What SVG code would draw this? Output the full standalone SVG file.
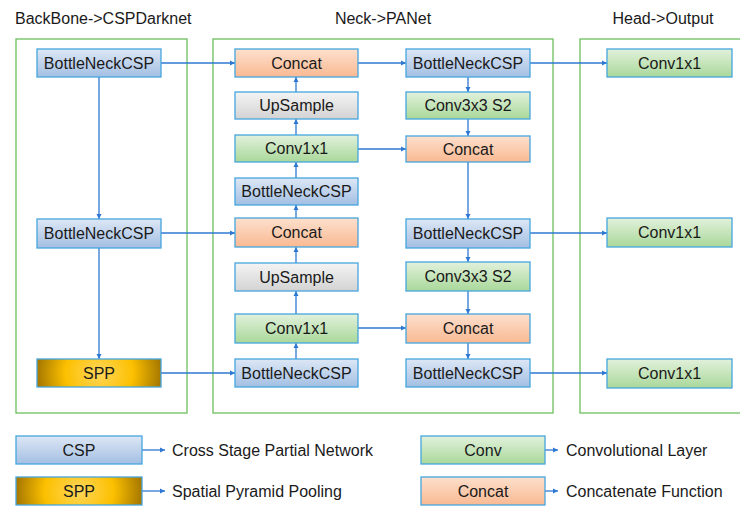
<svg xmlns="http://www.w3.org/2000/svg" width="740" height="507" viewBox="0 0 740 507">
<defs>
<linearGradient id="gBlue" x1="0" y1="0" x2="0" y2="1"><stop offset="0" stop-color="#dde7f5"/><stop offset="1" stop-color="#a3bfe3"/></linearGradient>
<linearGradient id="gOrange" x1="0" y1="0" x2="0" y2="1"><stop offset="0" stop-color="#fde0cd"/><stop offset="1" stop-color="#f9b992"/></linearGradient>
<linearGradient id="gGreen" x1="0" y1="0" x2="0" y2="1"><stop offset="0" stop-color="#e2f1dc"/><stop offset="1" stop-color="#a9d89a"/></linearGradient>
<linearGradient id="gGray" x1="0" y1="0" x2="0" y2="1"><stop offset="0" stop-color="#f4f4f4"/><stop offset="1" stop-color="#d3d3d3"/></linearGradient>
<radialGradient id="gSpp" cx="0.5" cy="0.5" r="0.5" gradientTransform="translate(0.5 0.5) scale(1 4) translate(-0.5 -0.5)"><stop offset="0" stop-color="#ffd75a"/><stop offset="0.55" stop-color="#fcc000"/><stop offset="1" stop-color="#a67800"/></radialGradient>
<marker id="arr" markerWidth="6" markerHeight="6" refX="5" refY="3" orient="auto" markerUnits="userSpaceOnUse"><path d="M0,0.5 L5,3 L0,5.5 Z" fill="#2f78d2"/></marker>
</defs>
<style>
.panel{fill:none;stroke:#6cbf5c;stroke-width:1.3}
.box{stroke:#46a6de;stroke-width:1.3}
.blue{fill:url(#gBlue)}
.orange{fill:url(#gOrange)}
.green{fill:url(#gGreen)}
.gray{fill:url(#gGray)}
.spp{fill:url(#gSpp)}
text{font-family:"Liberation Sans",Arial,sans-serif;font-size:16px;fill:#1a1a1a}
.lbl{text-anchor:middle}
.conn line{stroke:#2f78d2;stroke-width:1.3;marker-end:url(#arr)}
</style>
<rect width="740" height="507" fill="#ffffff"/>
<text x="15" y="24">BackBone-&gt;CSPDarknet</text>
<text x="383" y="24" class="lbl">Neck-&gt;PANet</text>
<text x="663" y="24" class="lbl">Head-&gt;Output</text>
<g id="panels">
<rect class="panel" x="16" y="39" width="171" height="374"/>
<rect class="panel" x="213" y="39" width="340" height="374"/>
<rect class="panel" x="580" y="39" width="170" height="374"/>
</g>
<g class="conn" id="connectors">
<line x1="161" y1="63" x2="235" y2="63"/>
<line x1="99" y1="77" x2="99" y2="219"/>
<line x1="161" y1="233" x2="235" y2="233"/>
<line x1="99" y1="248" x2="99" y2="359"/>
<line x1="161" y1="373" x2="235" y2="373"/>
<line x1="296" y1="359" x2="296" y2="343"/>
<line x1="296" y1="314" x2="296" y2="291"/>
<line x1="296" y1="263" x2="296" y2="247"/>
<line x1="296" y1="218" x2="296" y2="205"/>
<line x1="296" y1="178" x2="296" y2="162"/>
<line x1="296" y1="135" x2="296" y2="119"/>
<line x1="296" y1="92" x2="296" y2="77"/>
<line x1="358" y1="63" x2="406" y2="63"/>
<line x1="358" y1="149" x2="406" y2="149"/>
<line x1="358" y1="328" x2="406" y2="328"/>
<line x1="468" y1="77" x2="468" y2="92"/>
<line x1="468" y1="119" x2="468" y2="136"/>
<line x1="468" y1="162" x2="468" y2="219"/>
<line x1="468" y1="248" x2="468" y2="262"/>
<line x1="468" y1="291" x2="468" y2="314"/>
<line x1="468" y1="343" x2="468" y2="359"/>
<line x1="530" y1="63" x2="607" y2="63"/>
<line x1="530" y1="233" x2="607" y2="233"/>
<line x1="530" y1="373" x2="607" y2="373"/>
<line x1="142" y1="450" x2="165" y2="450"/>
<line x1="142" y1="491" x2="165" y2="491"/>
<line x1="545" y1="450" x2="558" y2="450"/>
<line x1="545" y1="491" x2="558" y2="491"/>
</g>
<g id="bb_csp1"><rect class="box blue" x="37" y="49" width="124" height="28"/><text class="lbl" x="99" y="69">BottleNeckCSP</text></g>
<g id="bb_csp2"><rect class="box blue" x="37" y="219" width="124" height="29"/><text class="lbl" x="99" y="239">BottleNeckCSP</text></g>
<g id="bb_spp"><rect class="box spp" x="37" y="359" width="124" height="28"/><text class="lbl" x="99" y="379">SPP</text></g>
<g id="n_concat1"><rect class="box orange" x="235" y="49" width="123" height="28"/><text class="lbl" x="296.5" y="69">Concat</text></g>
<g id="n_upsample1"><rect class="box gray" x="235" y="92" width="123" height="27"/><text class="lbl" x="296.5" y="111">UpSample</text></g>
<g id="n_conv1"><rect class="box green" x="235" y="135" width="123" height="27"/><text class="lbl" x="296.5" y="154">Conv1x1</text></g>
<g id="n_csp1"><rect class="box blue" x="235" y="178" width="123" height="27"/><text class="lbl" x="296.5" y="197">BottleNeckCSP</text></g>
<g id="n_concat2"><rect class="box orange" x="235" y="218" width="123" height="29"/><text class="lbl" x="296.5" y="238">Concat</text></g>
<g id="n_upsample2"><rect class="box gray" x="235" y="263" width="123" height="28"/><text class="lbl" x="296.5" y="283">UpSample</text></g>
<g id="n_conv2"><rect class="box green" x="235" y="314" width="123" height="29"/><text class="lbl" x="296.5" y="334">Conv1x1</text></g>
<g id="n_csp2"><rect class="box blue" x="235" y="359" width="123" height="28"/><text class="lbl" x="296.5" y="379">BottleNeckCSP</text></g>
<g id="r_csp1"><rect class="box blue" x="406" y="49" width="124" height="28"/><text class="lbl" x="468" y="69">BottleNeckCSP</text></g>
<g id="r_conv1"><rect class="box green" x="406" y="92" width="124" height="27"/><text class="lbl" x="468" y="111">Conv3x3 S2</text></g>
<g id="r_concat1"><rect class="box orange" x="406" y="136" width="124" height="26"/><text class="lbl" x="468" y="155">Concat</text></g>
<g id="r_csp2"><rect class="box blue" x="406" y="219" width="124" height="29"/><text class="lbl" x="468" y="239">BottleNeckCSP</text></g>
<g id="r_conv2"><rect class="box green" x="406" y="262" width="124" height="29"/><text class="lbl" x="468" y="282">Conv3x3 S2</text></g>
<g id="r_concat2"><rect class="box orange" x="406" y="314" width="124" height="29"/><text class="lbl" x="468" y="334">Concat</text></g>
<g id="r_csp3"><rect class="box blue" x="406" y="359" width="124" height="28"/><text class="lbl" x="468" y="379">BottleNeckCSP</text></g>
<g id="h_conv1"><rect class="box green" x="607" y="49" width="125" height="28"/><text class="lbl" x="669.5" y="69">Conv1x1</text></g>
<g id="h_conv2"><rect class="box green" x="607" y="218" width="125" height="29"/><text class="lbl" x="669.5" y="238">Conv1x1</text></g>
<g id="h_conv3"><rect class="box green" x="607" y="359" width="125" height="29"/><text class="lbl" x="669.5" y="379">Conv1x1</text></g>
<g id="legend_csp"><rect class="box blue" x="16" y="436" width="126" height="28"/><text class="lbl" x="79" y="456">CSP</text><text x="172" y="456">Cross Stage Partial Network</text></g>
<g id="legend_spp"><rect class="box spp" x="16" y="477" width="126" height="28"/><text class="lbl" x="79" y="497">SPP</text><text x="172" y="497">Spatial Pyramid Pooling</text></g>
<g id="legend_conv"><rect class="box green" x="421" y="436" width="124" height="28"/><text class="lbl" x="483" y="456">Conv</text><text x="566" y="456">Convolutional Layer</text></g>
<g id="legend_concat"><rect class="box orange" x="421" y="477" width="124" height="28"/><text class="lbl" x="483" y="497">Concat</text><text x="566" y="497">Concatenate Function</text></g>
</svg>
